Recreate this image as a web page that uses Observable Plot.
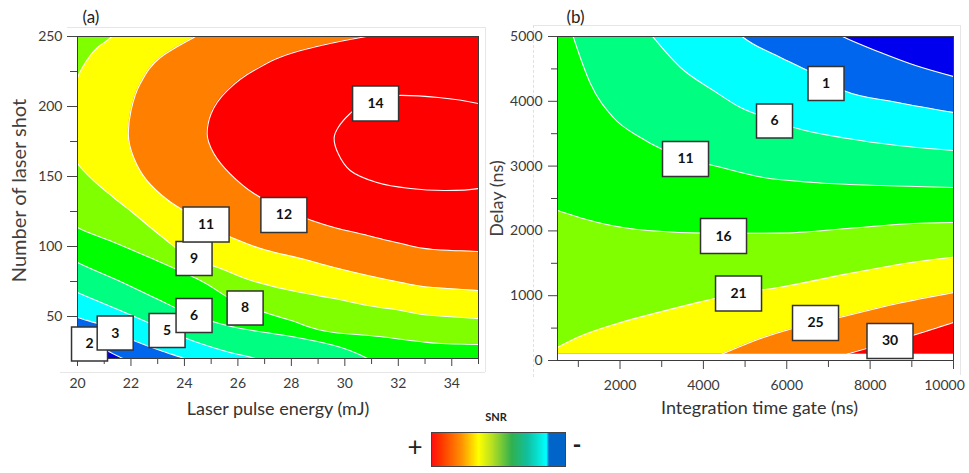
<!DOCTYPE html>
<html>
<head>
<meta charset="utf-8">
<script src="https://cdn.jsdelivr.net/npm/d3@7"></script>
<script src="https://cdn.jsdelivr.net/npm/@observablehq/plot@0.6"></script>
<style>
  html, body { margin: 0; padding: 0; background: #fff; }
  #wrap { position: relative; width: 969px; height: 473px; overflow: hidden; font-family: Lato, "Open Sans", sans-serif; }
  .pborder { position: absolute; background: #e6e6e6; }
  .lg { position: absolute; color: #222; line-height: 1; }
</style>
</head>
<body>
<div id="wrap">
  <div class="pborder" style="left:67px;top:27px;width:418px;height:1px"></div>
  <div class="pborder" style="left:485px;top:27px;width:1px;height:345px"></div>
  <div class="pborder" style="left:60px;top:372px;width:425px;height:1px"></div>
  <div class="pborder" style="left:533px;top:25px;width:427px;height:1px"></div>
  <div class="pborder" style="left:533px;top:25px;width:1px;height:352px;background:none;border-left:1px dashed #e0e0e0"></div>
  <div class="pborder" style="left:960px;top:25px;width:1px;height:350px"></div>
</div>
<script>
// ---------------- Panel (a): SNR vs laser pulse energy and number of laser shots ----------------
const energyDomain = [20, 35];
const shotDomain = [20, 250];
const energyTicks = [20, 22, 24, 26, 28, 30, 32, 34];
const energyMinorTicks = [21, 23, 25, 27, 29, 31, 33, 35];
const shotTicks = [50, 100, 150, 200, 250];
const shotMinorTicks = [75, 125, 175, 225];
const levelsA = [2, 3.5, 5, 6.5, 8, 9.5, 11, 12.5, 14];
const bandColorsA = ["#0000e6", "#0066ee", "#00ffff", "#00ff80", "#00ff00", "#80ff00", "#ffff00", "#ff8000", "#ff0000"];

// contour paths [energy (mJ), shots] (points past the frame are clipped)
const contourA_2 = [[22.2,15.7],[21.7,20],[20.7,29.3],[20,35],[19.5,38],[18,260]];
const contourA_3 = [[24.6,15.7],[24.0,20],[23.1,25.7],[22.1,32.9],[20.75,45],[20,49.3],[19.5,53],[18,260]];
const contourA_5 = [[27.2,15.7],[26.65,20],[25.7,24.3],[24.6,30.7],[23.35,40],[21.6,54.3],[20,67.1],[19.5,71.5],[18,260]];
const contourA_6 = [[31.3,14.3],[30.85,20],[29.6,29.3],[28.0,35.7],[26.1,41.4],[24.35,50.7],[23.1,61.4],[21.6,75],[20,88.6],[19.5,93.6],[18,260]];
const contourA_8 = [[35.8,29.3],[35,30],[33.6,30.7],[32.8,32.1],[31.3,35.7],[29.6,38.6],[28,47.1],[26.25,57.9],[24.6,75.7],[22.7,92.1],[21.2,104.3],[20,113.6],[19.7,118.6],[19.4,129.3],[18,260]];
const contourA_9 = [[35.8,47.9],[35,48.6],[33.3,50.7],[32.1,54.3],[30.85,57.9],[29.6,62.9],[28.35,67.1],[26.5,75.7],[25.35,84.3],[24.35,91.4],[23.1,107.9],[22.1,123.6],[21.35,135],[20.6,147.1],[20,159.3],[19.75,170],[19.6,186.4],[19.75,204.3],[20,220.7],[20.3,231.4],[20.75,242.1],[21.25,249.3],[21.4,255.7]];
const contourA_11 = [[35.8,67.9],[35,68.6],[33.3,70.7],[32.1,74.3],[30.85,79.3],[29.6,85],[28.35,91.4],[27.1,97.1],[25.85,105.7],[24.8,116.5],[23.4,132.9],[22.6,147.1],[22.1,163.6],[21.9,180.7],[22.0,197.1],[22.35,216.4],[23.1,235],[24.35,249.3],[24.9,255]];
const contourA_12 = [[36,95.5],[35,96.4],[33.3,97.9],[32.1,102.1],[30.85,107.9],[29.6,113.6],[27.8,125.7],[26.6,137.9],[25.7,152.1],[25.1,166.4],[24.85,180.7],[25.0,195],[25.6,211.4],[26.6,225.7],[28.35,240],[30.6,249.3],[31.8,253]];
const contourA_14 = [[35,202.1],[33.5,206.4],[32,207.9],[31,206.4],[30.2,195],[29.75,185],[29.6,177.9],[29.75,166.4],[30.2,154.3],[31.2,145.7],[32.45,141.4],[33.7,140],[35,141.4],[36.5,150],[37,172],[36.5,194]];
const labelsA = [
  {text: "2", energy: 20.45, shots: 30.4},
  {text: "3", energy: 21.41, shots: 38.2},
  {text: "5", energy: 23.35, shots: 40},
  {text: "6", energy: 24.36, shots: 50.7},
  {text: "8", energy: 26.27, shots: 56.1},
  {text: "9", energy: 24.36, shots: 91.4},
  {text: "11", energy: 24.81, shots: 115.7},
  {text: "12", energy: 27.72, shots: 122.5},
  {text: "14", energy: 31.15, shots: 202.1}
];

// ---------------- Panel (b): SNR vs integration time gate and delay ----------------
const gateDomain = [500, 10000];
const delayDomain = [0, 5000];
const delayMin = 100;
const gateTicks = [2000, 4000, 6000, 8000, 10000];
const gateMinorTicks = [1000, 3000, 5000, 7000, 9000];
const delayTicks = [0, 1000, 2000, 3000, 4000, 5000];
const delayMinorTicks = [500, 1500, 2500, 3500, 4500];
const levelsB = [-4, 1, 6, 11, 16, 21, 25, 30];
const bandColorsB = ["#0000ee", "#0066ee", "#00ffff", "#00ff80", "#00ff00", "#80ff00", "#ffff00", "#ff8000", "#ff0000"];

// contour paths [gate (ns), delay (ns)]
const contourB_m4 = [[500,6800],[6000,5500],[7337,5000],[8250,4753],[9090,4552],[10000,4383]];
const contourB_1 = [[500,6800],[4300,5400],[4960,4985],[5850,4676],[6500,4475],[7360,4167],[8660,3981],[10000,3827]];
const contourB_6 = [[500,6800],[2300,5400],[2800,4985],[3450,4522],[4240,4167],[4890,3904],[5706,3704],[6260,3580],[7460,3426],[8660,3318],[10000,3241]];
const contourB_11 = [[500,5800],[884,4985],[1290,4275],[1840,3750],[2490,3441],[3571,3117],[4240,3009],[5440,2824],[6640,2747],[8250,2701],[10000,2670]];
const contourB_16 = [[500,2315],[1460,2130],[2660,2006],[4240,1962],[5850,1965],[7460,2037],[9040,2114],[10000,2130]];
const contourB_21 = [[500,201],[980,355],[1940,571],[2970,750],[3930,905],[4843,1034],[5850,1131],[7460,1337],[9040,1517],[10000,1594]];
const contourB_25 = [[4450,100],[5442,355],[6140,494],[7240,660],[8660,880],[10000,1049]];
const contourB_30 = [[7450,100],[7913,185],[9017,386],[10000,586]];
const labelsB = [
  {text: "1", gate: 6942, delay: 4275},
  {text: "6", gate: 5706, delay: 3696},
  {text: "11", gate: 3571, delay: 3110},
  {text: "16", gate: 4483, delay: 1921},
  {text: "21", gate: 4843, delay: 1034},
  {text: "25", gate: 6690, delay: 579},
  {text: "30", gate: 8477, delay: 301}
];

// ---------------- helpers ----------------
const boxSymbol = (w, h) => ({
  draw(ctx) {
    ctx.moveTo(-w / 2, -h / 2); ctx.lineTo(w / 2, -h / 2);
    ctx.lineTo(w / 2, h / 2); ctx.lineTo(-w / 2, h / 2); ctx.closePath();
  }
});
const FONT = "Lato, 'Open Sans', sans-serif";
function labelMarks(labels, xk, yk) {
  const one = labels.filter(d => d.text.length === 1);
  const two = labels.filter(d => d.text.length > 1);
  return [
    Plot.dot(one, {x: xk, y: yk, symbol: boxSymbol(36, 34), fill: "white", stroke: "#333", strokeWidth: 1.5}),
    Plot.dot(two, {x: xk, y: yk, symbol: boxSymbol(46, 35), fill: "white", stroke: "#333", strokeWidth: 1.5}),
    Plot.text(labels, {x: xk, y: yk, text: "text", fontWeight: "bold", fontSize: 14, fill: "#111"})
  ];
}

// ---------------- plot (a) ----------------
const contoursA = [contourA_2, contourA_3, contourA_5, contourA_6, contourA_8, contourA_9, contourA_11, contourA_12];
const byY = pts => d3.sort(pts, d => d[1]);
const byX = pts => d3.sort(pts, d => d[0]);

const plotA = Plot.plot({
  width: 485, height: 430,
  marginLeft: 77, marginRight: 7, marginTop: 36, marginBottom: 72,
  x: {domain: energyDomain},
  y: {domain: shotDomain},
  style: {fontFamily: FONT, fontSize: "14px", color: "#3a3a3a", background: "transparent", position: "absolute", left: "0px", top: "0px", overflow: "visible"},
  marks: [
    Plot.rect([energyDomain], {x1: d => d[0], x2: d => d[1], y1: shotDomain[0], y2: shotDomain[1], fill: bandColorsA[0]}),
    ...contoursA.map((pts, i) => Plot.areaX(byY(pts), {y: d => d[1], x1: d => d[0], x2: energyDomain[1] + 2, curve: "monotone-y", fill: bandColorsA[i + 1], clip: true})),
    ...contoursA.map(pts => Plot.line(byY(pts), {x: d => d[0], y: d => d[1], curve: "monotone-y", stroke: "white", strokeWidth: 1.1, clip: true})),
    Plot.line(contourA_14, {curve: "catmull-rom-closed", stroke: "white", strokeWidth: 1.1, clip: true}),
    Plot.frame({stroke: "#3a3a3a"}),
    Plot.axisX(energyTicks, {tickSize: 8, tickPadding: 12, label: null, stroke: "#444"}),
    Plot.axisX(energyMinorTicks, {tickSize: 6, tickFormat: () => "", label: null, stroke: "#444"}),
    Plot.axisY(shotTicks, {tickSize: 10, tickPadding: 5, label: null, stroke: "#444"}),
    Plot.axisY(shotMinorTicks, {tickSize: 7, tickFormat: () => "", label: null, stroke: "#444"}),
    ...labelMarks(labelsA, "energy", "shots"),
    Plot.text(["(a)"], {frameAnchor: "top-left", dx: 5, dy: -19, textAnchor: "start", lineAnchor: "middle", fontSize: 17, fill: "#222"}),
    Plot.text(["Laser pulse energy (mJ)"], {frameAnchor: "bottom", dy: 51, textAnchor: "middle", lineAnchor: "middle", fontSize: 18, fill: "#333"}),
    Plot.text(["Number of laser shot"], {frameAnchor: "left", rotate: -90, dx: -58, dy: -7, textAnchor: "middle", lineAnchor: "middle", fontSize: 20, fill: "#404040"})
  ]
});

// ---------------- plot (b) ----------------
const contoursB = [contourB_m4, contourB_1, contourB_6, contourB_11, contourB_16, contourB_21, contourB_25, contourB_30];
const lastGate = gateTicks[gateTicks.length - 1];
const plotB = Plot.plot({
  width: 484, height: 430,
  marginLeft: 72, marginRight: 16, marginTop: 36, marginBottom: 70,
  x: {domain: gateDomain},
  y: {domain: delayDomain},
  style: {fontFamily: FONT, fontSize: "14px", color: "#3a3a3a", background: "transparent", position: "absolute", left: "485px", top: "0px", overflow: "visible"},
  marks: [
    Plot.rect([gateDomain], {x1: d => d[0], x2: d => d[1], y1: delayMin, y2: delayDomain[1], fill: bandColorsB[0]}),
    ...contoursB.map((pts, i) => Plot.areaY(byX(pts), {x: d => d[0], y1: delayMin, y2: d => d[1], curve: "monotone-x", fill: bandColorsB[i + 1], clip: true})),
    ...contoursB.map(pts => Plot.line(byX(pts), {x: d => d[0], y: d => d[1], curve: "monotone-x", stroke: "white", strokeWidth: 1.1, clip: true})),
    Plot.frame({stroke: "#3a3a3a"}),
    Plot.axisX(gateTicks, {tickSize: 9, tickPadding: 11, label: null, stroke: "#444", tickFormat: d => d === lastGate ? "" : String(d)}),
    Plot.text([lastGate], {x: d => d, frameAnchor: "bottom", dy: 20, dx: -9, lineAnchor: "top", textAnchor: "middle", fill: "#3a3a3a", text: d => String(d)}),
    Plot.axisX(gateMinorTicks, {tickSize: 7, tickFormat: () => "", label: null, stroke: "#444"}),
    Plot.axisY(delayTicks, {tickSize: 9, tickPadding: 6, label: null, stroke: "#444", tickFormat: d => String(d)}),
    Plot.axisY(delayMinorTicks, {tickSize: 6, tickFormat: () => "", label: null, stroke: "#444"}),
    ...labelMarks(labelsB, "gate", "delay"),
    Plot.text(["(b)"], {frameAnchor: "top-left", dx: 9, dy: -19, textAnchor: "start", lineAnchor: "middle", fontSize: 17, fill: "#222"}),
    Plot.text(["Integration time gate (ns)"], {frameAnchor: "bottom", dx: 4, dy: 48, textAnchor: "middle", lineAnchor: "middle", fontSize: 18, fill: "#333"}),
    Plot.text(["Delay (ns)"], {frameAnchor: "left", rotate: -90, dx: -60, textAnchor: "middle", lineAnchor: "middle", fontSize: 18, fill: "#404040"})
  ]
});

const wrap = document.getElementById("wrap");
wrap.appendChild(plotA);
wrap.appendChild(plotB);

// ---------------- legend (below the charts) ----------------
const legendStops = ["#ff1010 0%", "#ff2a00 5%", "#ff9000 22%", "#ffff00 35%", "#b8e020 45%", "#30b050 60%", "#10c0a0 72%", "#00ffff 86%", "#0064c8 88%", "#0064c8 100%"];
const lg = document.createElement("div");
lg.innerHTML = `
  <div class="lg" style="left:478px;top:411px;width:36px;text-align:center;font-weight:bold;font-size:11px">SNR</div>
  <div class="lg" style="left:403px;top:433px;width:24px;text-align:center;font-size:26px;font-weight:normal">+</div>
  <div class="lg" style="left:431px;top:432px;width:133px;height:33px;border:1px solid #444;background:linear-gradient(to right, ${legendStops.join(",")})"></div>
  <div class="lg" style="left:571px;top:432px;width:12px;text-align:center;font-size:24px;font-weight:bold">-</div>`;
wrap.appendChild(lg);
</script>
</body>
</html>
